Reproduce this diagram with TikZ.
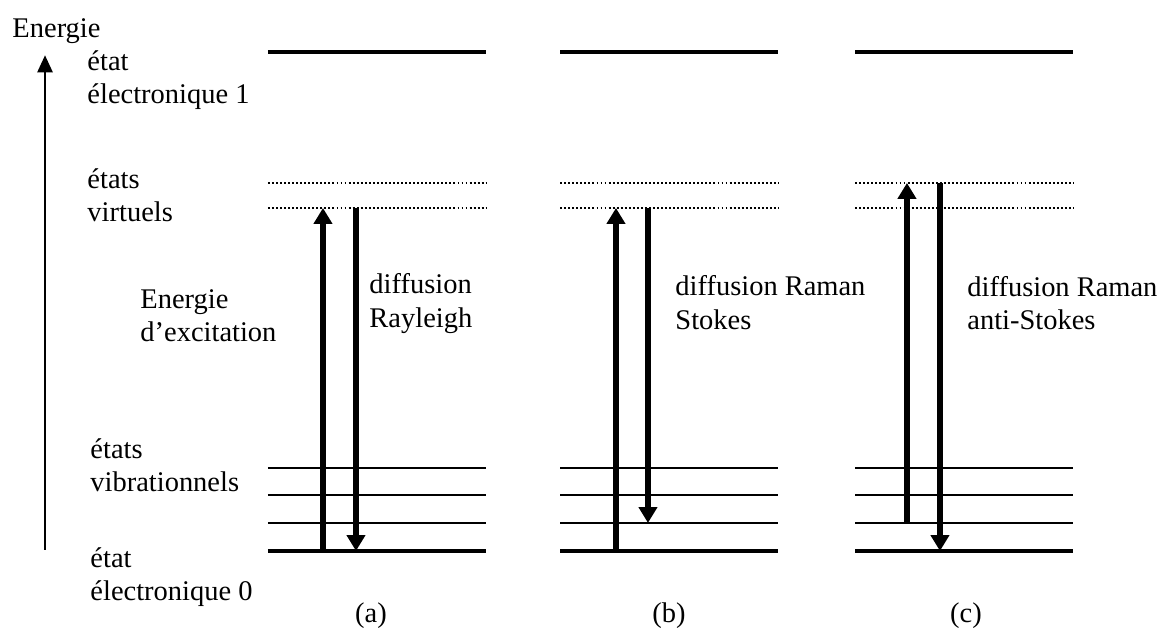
\documentclass[tikz,border=0pt]{standalone}
\usepackage{fontspec}
\setmainfont{Liberation Serif}
\usetikzlibrary{arrows.meta}

\begin{document}
\begin{tikzpicture}[
    niveau/.style={line width=1.7pt},
    vib/.style={line width=0.85pt},
    virtuel/.style={line width=1.1pt, dash pattern=on 0.8pt off 0.9pt},
    photon/.style={line width=2.4pt, -{Triangle[width=7.6pt,length=6.7pt]}},
    legende/.style={font=\fontsize{12}{14.3}\selectfont, align=left, anchor=base west, inner sep=0pt}
]
    \useasboundingbox (0,0) rectangle (17.26,9.378);

    % Axe des énergies
    \draw[line width=1.1pt, -{Triangle[width=6.3pt,length=7.2pt]}] (0.667,1.23) -- (0.667,8.56);
    \node[legende] (energie) at (0.178,8.815) {Energie};

    % Niveaux : électronique, virtuels, vibrationnels
    \foreach \x/\lx/\nom in {3.97/5.496/a, 8.30/9.911/b, 12.67/14.311/c} {
        \draw[niveau] (\x,8.607) -- ++(3.23,0);
        \draw[virtuel] (\x,6.667) -- ++(3.23,0);
        \draw[virtuel] (\x,6.296) -- ++(3.23,0);
        \foreach \y in {2.444, 2.044, 1.630}
            \draw[vib] (\x,\y) -- ++(3.23,0);
        \draw[niveau] (\x,1.215) -- ++(3.23,0);
        \node[font=\fontsize{12}{14.3}\selectfont, anchor=base] (cas-\nom) at (\lx,0.148) {(\nom)};
    }

    % Légendes à gauche (ancre sur la dernière ligne)
    \node[legende] (etat1) at (1.289,7.837) {état\\électronique 1};
    \node[legende] (virt) at (1.289,6.089) {états\\virtuels};
    \node[legende] (vibr) at (1.333,2.089) {états\\vibrationnels};
    \node[legende] (etat0) at (1.333,0.474) {état\\électronique 0};

    % (a) diffusion Rayleigh
    \draw[photon] (4.785,1.215) -- (4.785,6.296);
    \draw[photon] (5.274,6.296) -- (5.274,1.215);
    \node[legende] (excit) at (2.074,4.311) {Energie\\d’excitation};
    \node[legende] (rayleigh) at (5.467,4.533) {diffusion\\Rayleigh};

    % (b) diffusion Raman Stokes
    \draw[photon] (9.126,1.215) -- (9.126,6.296);
    \draw[photon] (9.600,6.296) -- (9.600,1.630);
    \node[legende] (stokes) at (10.0,4.503) {diffusion Raman\\Stokes};

    % (c) diffusion Raman anti-Stokes
    \draw[photon] (13.437,1.630) -- (13.437,6.667);
    \draw[photon] (13.926,6.667) -- (13.926,1.215);
    \node[legende] (antistokes) at (14.326,4.489) {diffusion Raman\\anti-Stokes};
\end{tikzpicture}
\end{document}
